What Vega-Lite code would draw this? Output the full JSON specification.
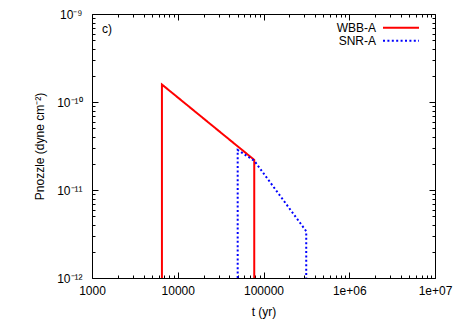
{
  "$schema": "https://vega.github.io/schema/vega-lite/v6.json",
  "width": 343,
  "height": 264,
  "autosize": {"type": "none"},
  "padding": {"left": 92, "top": 14, "right": 23, "bottom": 42},
  "config": {
    "font": "Liberation Sans",
    "view": {"stroke": "black", "strokeWidth": 1},
    "axis": {
      "labelFont": "Liberation Sans",
      "labelFontSize": 12,
      "labelColor": "black",
      "titleFont": "Liberation Sans",
      "titleFontSize": 12,
      "titleFontWeight": "normal",
      "titleColor": "black",
      "domain": false,
      "grid": false,
      "tickColor": "black",
      "tickWidth": 1,
      "labelOverlap": false,
      "labelFlush": false,
      "labelBound": false
    },
    "legend": {
      "padding": 0,
      "labelFont": "Liberation Sans",
      "labelFontSize": 12,
      "labelColor": "black",
      "symbolType": "M-3.6,0H3.6",
      "symbolSize": 100,
      "symbolStrokeWidth": 2,
      "labelAlign": "right",
      "labelOffset": -31,
      "rowPadding": 1
    }
  },
  "layer": [
    {
      "data": {
        "values": [
          {"series": "WBB-A", "i": 0, "t": 6540, "P": 1e-12},
          {"series": "WBB-A", "i": 1, "t": 6540, "P": 1.58e-10},
          {"series": "WBB-A", "i": 2, "t": 78000, "P": 2.2e-11},
          {"series": "WBB-A", "i": 3, "t": 78000, "P": 1e-12},
          {"series": "SNR-A", "i": 0, "t": 50000, "P": 1e-12},
          {"series": "SNR-A", "i": 1, "t": 50000, "P": 2.85e-11},
          {"series": "SNR-A", "i": 2, "t": 78000, "P": 2.15e-11},
          {"series": "SNR-A", "i": 3, "t": 315000, "P": 3.4e-12},
          {"series": "SNR-A", "i": 4, "t": 315000, "P": 1e-12}
        ]
      },
      "mark": {"type": "line", "strokeWidth": 2, "clip": true},
      "encoding": {
        "x": {
          "field": "t",
          "type": "quantitative",
          "scale": {"type": "log", "domain": [1000, 10000000], "nice": false},
          "axis": {
            "orient": "bottom",
            "title": "t (yr)",
            "titleX": 171.5,
            "titleY": 33,
            "titleBaseline": "middle",
            "values": [1000, 2000, 3000, 4000, 5000, 6000, 7000, 8000, 9000, 10000, 20000, 30000, 40000, 50000, 60000, 70000, 80000, 90000, 100000, 200000, 300000, 400000, 500000, 600000, 700000, 800000, 900000, 1000000, 2000000, 3000000, 4000000, 5000000, 6000000, 7000000, 8000000, 9000000, 10000000],
            "labelExpr": "datum.value == 1000 ? '1000' : datum.value == 10000 ? '10000' : datum.value == 100000 ? '100000' : datum.value == 1000000 ? '1e+06' : datum.value == 10000000 ? '1e+07' : ''",
            "tickSize": {"condition": {"test": "indexof([1000, 10000, 100000, 1000000, 10000000], datum.value) >= 0", "value": -6}, "value": -3},
            "labelPadding": 13
          }
        },
        "y": {
          "field": "P",
          "type": "quantitative",
          "scale": {"type": "log", "domain": [1e-12, 1e-9], "nice": false},
          "axis": {
            "orient": "left",
            "title": "Pnozzle (dyne cm⁻²)",
            "titleX": -53,
            "titleY": 132,
            "titleBaseline": "middle",
            "values": [1e-12, 2e-12, 3e-12, 4e-12, 5e-12, 6e-12, 7e-12, 8e-12, 9e-12, 1e-11, 2e-11, 3e-11, 4e-11, 5e-11, 6e-11, 7e-11, 8e-11, 9e-11, 1e-10, 2e-10, 3e-10, 4e-10, 5e-10, 6e-10, 7e-10, 8e-10, 9e-10, 1e-9],
            "labelExpr": "datum.value == 1e-9 ? '10⁻⁹' : datum.value == 1e-10 ? '10⁻¹⁰' : datum.value == 1e-11 ? '10⁻¹¹' : datum.value == 1e-12 ? '10⁻¹²' : ''",
            "tickSize": {"condition": {"test": "indexof([1e-12, 1e-11, 1e-10, 1e-9], datum.value) >= 0", "value": -6}, "value": -3},
            "labelPadding": 16
          }
        },
        "order": {"field": "i", "type": "quantitative"},
        "color": {
          "field": "series",
          "type": "nominal",
          "scale": {"domain": ["WBB-A", "SNR-A"], "range": ["#ff0000", "#0000ff"]},
          "legend": {"title": null, "orient": "none", "legendX": 303, "legendY": 7.8}
        },
        "strokeDash": {
          "field": "series",
          "type": "nominal",
          "scale": {"domain": ["WBB-A", "SNR-A"], "range": [[1, 0], [2, 2.4]]},
          "legend": {"title": null, "orient": "none", "legendX": 303, "legendY": 7.8}
        }
      }
    },
    {
      "data": {"values": [{"label": "c)"}]},
      "mark": {"type": "text", "align": "left", "baseline": "middle", "fontSize": 12, "fontWeight": "normal", "font": "Liberation Sans", "color": "black"},
      "encoding": {
        "x": {"datum": 1310, "type": "quantitative", "axis": null},
        "y": {"datum": 6.8e-10, "type": "quantitative", "axis": null},
        "text": {"field": "label", "type": "nominal"}
      }
    },
    {
      "data": {"values": [{"t": 1000, "P": 1e-12}, {"t": 10000000, "P": 1e-9}]},
      "mark": {"type": "point", "opacity": 0},
      "encoding": {
        "x": {
          "field": "t",
          "type": "quantitative",
          "axis": {
            "orient": "top",
            "title": null,
            "labels": false,
            "values": [1000, 2000, 3000, 4000, 5000, 6000, 7000, 8000, 9000, 10000, 20000, 30000, 40000, 50000, 60000, 70000, 80000, 90000, 100000, 200000, 300000, 400000, 500000, 600000, 700000, 800000, 900000, 1000000, 2000000, 3000000, 4000000, 5000000, 6000000, 7000000, 8000000, 9000000, 10000000],
            "tickSize": {"condition": {"test": "indexof([1000, 10000, 100000, 1000000, 10000000], datum.value) >= 0", "value": -6}, "value": -3}
          }
        },
        "y": {
          "field": "P",
          "type": "quantitative",
          "axis": {
            "orient": "right",
            "title": null,
            "labels": false,
            "values": [1e-12, 2e-12, 3e-12, 4e-12, 5e-12, 6e-12, 7e-12, 8e-12, 9e-12, 1e-11, 2e-11, 3e-11, 4e-11, 5e-11, 6e-11, 7e-11, 8e-11, 9e-11, 1e-10, 2e-10, 3e-10, 4e-10, 5e-10, 6e-10, 7e-10, 8e-10, 9e-10, 1e-9],
            "tickSize": {"condition": {"test": "indexof([1e-12, 1e-11, 1e-10, 1e-9], datum.value) >= 0", "value": -6}, "value": -3}
          }
        }
      }
    }
  ],
  "resolve": {"axis": {"x": "independent", "y": "independent"}}
}
